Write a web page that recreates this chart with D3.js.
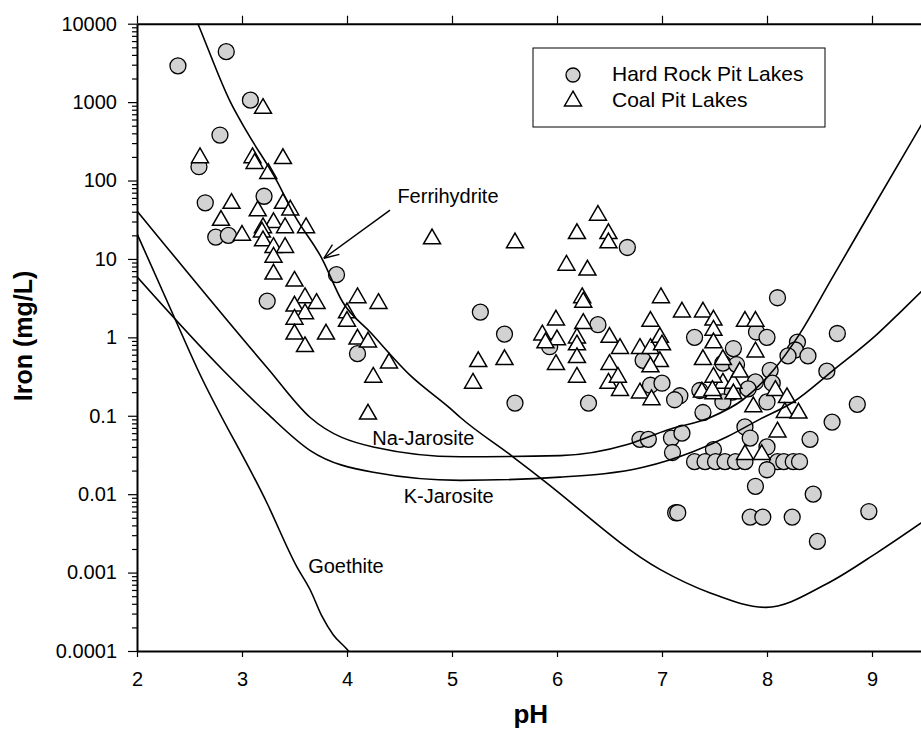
<!DOCTYPE html>
<html>
<head>
<meta charset="utf-8">
<script src="https://cdn.jsdelivr.net/npm/d3@7"></script>
<style>
  body { margin: 0; background: #fff; }
  svg { font-family: "Liberation Sans", Arial, sans-serif; }
</style>
</head>
<body>
<div id="chart"></div>
<script>
// axis ticks
var xTicks = [2, 3, 4, 5, 6, 7, 8, 9];
var yTicks = [0.0001, 0.001, 0.01, 0.1, 1, 10, 100, 1000, 10000];
var yTickLabels = ["0.0001", "0.001", "0.01", "0.1", "1", "10", "100", "1000", "10000"];

// pH, Fe (mg/L)
var hardRock = [
    [2.39, 2900], [2.85, 4400], [3.08, 1060], [2.79, 380], [2.59, 150], [2.65, 52],
    [2.75, 19], [2.87, 20], [3.21, 63], [3.24, 2.9], [3.90, 6.3], [4.10, 0.62],
    [5.27, 2.1], [5.50, 1.1], [5.93, 0.76], [5.60, 0.145], [6.39, 1.45], [6.67, 14],
    [6.30, 0.145], [6.82, 0.51], [7.31, 1.0], [8.10, 3.2], [7.68, 0.72], [7.90, 1.17],
    [8.00, 1.0], [7.58, 0.47], [7.71, 0.45], [6.89, 0.245], [7.00, 0.26], [7.17, 0.18],
    [7.36, 0.21], [7.89, 0.27], [8.03, 0.38], [8.29, 0.87], [8.27, 0.69], [8.20, 0.58],
    [8.39, 0.58], [8.67, 1.12], [8.57, 0.37], [8.05, 0.26], [8.86, 0.14], [7.12, 0.16],
    [7.39, 0.11], [7.67, 0.2], [7.82, 0.22], [8.00, 0.15], [7.58, 0.15], [6.79, 0.05],
    [6.87, 0.05], [7.09, 0.052], [7.19, 0.06], [7.10, 0.034], [7.49, 0.037], [7.79, 0.072],
    [7.84, 0.052], [8.00, 0.04], [8.41, 0.05], [8.62, 0.083],
    [7.31, 0.026], [7.41, 0.026], [7.51, 0.026], [7.60, 0.026], [7.70, 0.026],
    [7.79, 0.026], [8.10, 0.026], [8.16, 0.026], [8.25, 0.026], [8.31, 0.026],
    [8.00, 0.0205], [7.89, 0.0126], [7.13, 0.0058], [7.15, 0.0058], [7.84, 0.0051],
    [7.96, 0.0051], [8.24, 0.0051], [8.44, 0.01], [8.48, 0.0025], [8.97, 0.006]
];

var coal = [
    [3.20, 830], [2.60, 195], [3.10, 195], [3.12, 165], [3.39, 190], [3.25, 123],
    [2.90, 51], [2.80, 31], [3.00, 20], [3.15, 41], [3.39, 51], [3.46, 42],
    [3.30, 29], [3.20, 25], [3.19, 22], [3.41, 25], [3.61, 25], [3.20, 17],
    [3.30, 14], [3.41, 14], [3.30, 10.5], [3.30, 6.4], [3.50, 5.2], [3.60, 3.2],
    [3.71, 2.7], [3.50, 2.5], [3.60, 2.0], [3.50, 1.7], [3.50, 1.1], [3.60, 0.76],
    [3.80, 1.1], [4.10, 3.2], [4.30, 2.7], [4.00, 2.05], [4.00, 1.6], [4.10, 0.95],
    [4.20, 0.87], [4.40, 0.47], [4.25, 0.31], [4.20, 0.105], [4.81, 18], [5.60, 16],
    [6.19, 21], [6.39, 36], [6.49, 21], [6.49, 16], [6.09, 8.3], [6.29, 7.2],
    [6.24, 3.2], [6.25, 2.8], [5.99, 1.66], [6.25, 1.5], [5.86, 1.07], [6.00, 0.93],
    [5.89, 0.85], [6.19, 0.98], [6.19, 0.8], [6.50, 1.0], [6.60, 0.72], [6.79, 0.72],
    [6.89, 0.72], [6.98, 1.0], [7.00, 0.8], [6.99, 3.2], [7.19, 2.1], [7.39, 2.1],
    [7.49, 1.66], [7.49, 1.23], [6.89, 1.6], [7.49, 0.85], [7.79, 1.6], [7.89, 1.6],
    [7.89, 0.65], [7.39, 0.52], [7.58, 0.52], [6.98, 0.49], [6.89, 0.42], [5.25, 0.49],
    [5.50, 0.52], [5.99, 0.45], [6.19, 0.55], [6.50, 0.45], [5.20, 0.26], [6.19, 0.31],
    [6.49, 0.26], [6.60, 0.21], [6.79, 0.195], [6.90, 0.16], [6.58, 0.31], [7.38, 0.2],
    [7.49, 0.19], [7.58, 0.26], [7.68, 0.26], [7.74, 0.36], [7.49, 0.31], [7.87, 0.13],
    [8.08, 0.21], [8.19, 0.17], [8.17, 0.11], [8.30, 0.108], [8.10, 0.062], [7.79, 0.032],
    [7.95, 0.032], [7.48, 0.21], [7.68, 0.19]
];

// solubility curves
var ferrihydrite = [
    [2.50, 18000], [2.58, 10000], [2.89, 1000], [3.05, 410], [3.33, 100], [3.50, 36],
    [3.76, 10.2], [3.96, 2.8], [4.22, 1.17], [4.60, 0.33], [4.98, 0.125], [5.08, 0.095],
    [5.58, 0.03], [5.87, 0.015], [6.98, 0.0011], [7.46, 0.00055], [7.99, 0.00036],
    [8.57, 0.00072], [9.05, 0.0018], [9.50, 0.0046]
];
var naJarosite = [
    [2.00, 41], [3.24, 0.41], [3.65, 0.095], [4.25, 0.04], [5.08, 0.03], [6.03, 0.031],
    [6.67, 0.043], [7.05, 0.066], [7.46, 0.095], [7.77, 0.16], [8.06, 0.38], [8.31, 1.1],
    [8.61, 5.4], [9.00, 43], [9.50, 600]
];
var kJarosite = [
    [2.00, 5.9], [2.82, 0.38], [3.24, 0.107], [3.65, 0.036], [4.25, 0.019], [5.08, 0.015],
    [6.03, 0.0165], [6.82, 0.022], [7.30, 0.035], [7.62, 0.054], [7.93, 0.09], [8.25, 0.15],
    [8.63, 0.38], [9.05, 1.1], [9.27, 2.1], [9.50, 4.2]
];
var goethite = [
    [2.00, 21], [2.34, 2.0], [2.57, 0.41], [3.24, 0.0076], [3.52, 0.0012], [3.65, 0.0006],
    [3.76, 0.00028], [3.87, 0.00016], [4.00, 0.000105], [4.10, 0.00007]
];

var curveLabels = [
    {text: "Ferrihydrite", x: 4.48, y: 51},
    {text: "Na-Jarosite", x: 4.24, y: 0.042},
    {text: "K-Jarosite", x: 4.54, y: 0.0077},
    {text: "Goethite", x: 3.63, y: 0.00098}
];

var margin = {top: 23.7, left: 137},
    width = 787.5,
    height = 627.3;

var svg = d3.select("#chart").append("svg")
    .attr("width", 921)
    .attr("height", 737);

var g = svg.append("g")
    .attr("transform", "translate(" + margin.left + "," + margin.top + ")");

var x = d3.scaleLinear().domain([2, 9.5]).range([0, width]);
var y = d3.scaleLog().domain([0.0001, 10000]).range([height, 0]);

svg.append("defs").append("clipPath")
    .attr("id", "plotclip")
    .append("rect")
    .attr("width", width)
    .attr("height", height);

// markers
var plot = g.append("g").attr("clip-path", "url(#plotclip)");

plot.selectAll(".hr")
    .data(hardRock)
    .enter().append("circle")
    .attr("class", "hr")
    .attr("cx", function (d) { return x(d[0]); })
    .attr("cy", function (d) { return y(d[1]); })
    .attr("r", 8)
    .attr("fill", "#d2d2d2")
    .attr("stroke", "#000")
    .attr("stroke-width", 1.3);

var tri = d3.symbol().type(d3.symbolTriangle).size(125);

plot.selectAll(".coal")
    .data(coal)
    .enter().append("path")
    .attr("class", "coal")
    .attr("d", tri)
    .attr("transform", function (d) {
        return "translate(" + x(d[0]) + "," + y(d[1]) + ")";
    })
    .attr("fill", "#fff")
    .attr("stroke", "#000")
    .attr("stroke-width", 1.5);

// curves
var line = d3.line()
    .x(function (d) { return x(d[0]); })
    .y(function (d) { return y(d[1]); })
    .curve(d3.curveMonotoneX);

[ferrihydrite, naJarosite, kJarosite, goethite].forEach(function (c) {
    plot.append("path")
        .datum(c)
        .attr("d", line)
        .attr("fill", "none")
        .attr("stroke", "#000")
        .attr("stroke-width", 1.6);
});

g.selectAll(".clabel")
    .data(curveLabels)
    .enter().append("text")
    .attr("class", "clabel")
    .attr("x", function (d) { return x(d.x); })
    .attr("y", function (d) { return y(d.y); })
    .attr("font-size", 20)
    .text(function (d) { return d.text; });

// arrow for Ferrihydrite
var tail = [4.41, 42], tip = [3.78, 10.2];
var tx = x(tip[0]), ty = y(tip[1]);
var ang = Math.atan2(y(tail[1]) - ty, x(tail[0]) - tx);
g.append("line")
    .attr("x1", x(tail[0])).attr("y1", y(tail[1]))
    .attr("x2", tx).attr("y2", ty)
    .attr("stroke", "#000").attr("stroke-width", 1.4);
[-0.38, 0.38].forEach(function (a) {
    g.append("line")
        .attr("x1", tx).attr("y1", ty)
        .attr("x2", tx + 16 * Math.cos(ang + a))
        .attr("y2", ty + 16 * Math.sin(ang + a))
        .attr("stroke", "#000").attr("stroke-width", 1.4);
});

// axes
var minorTicks = [];
yTicks.slice(0, -1).forEach(function (t) {
    for (var k = 2; k < 10; k++) minorTicks.push(t * k);
});

g.append("g")
    .call(d3.axisLeft(y).tickValues(minorTicks).tickSize(5).tickSizeOuter(0).tickFormat(""))
    .call(function (a) { a.select(".domain").remove(); });

g.append("g")
    .attr("class", "axis")
    .call(d3.axisLeft(y).tickValues(yTicks).tickSize(9).tickSizeOuter(0).tickPadding(11)
        .tickFormat(function (d, i) { return yTickLabels[i]; }));

g.append("g")
    .attr("class", "axis")
    .attr("transform", "translate(0," + height + ")")
    .call(d3.axisBottom(x).tickValues(xTicks).tickSize(6).tickSizeOuter(0).tickPadding(15));

g.append("g")
    .attr("class", "axis")
    .call(d3.axisTop(x).tickValues(xTicks).tickSize(8).tickSizeOuter(0).tickFormat(""));

g.selectAll(".axis text")
    .attr("font-size", 20)
    .attr("font-family", "Liberation Sans, Arial, sans-serif")
    .attr("fill", "#000");
g.selectAll(".domain").attr("stroke-width", 2);
g.selectAll(".tick line").attr("stroke-width", 1.2);

// axis titles
svg.append("text")
    .attr("transform", "translate(32," + 336 + ") rotate(-90)")
    .attr("text-anchor", "middle")
    .attr("font-size", 25)
    .attr("font-weight", "bold")
    .text("Iron (mg/L)");

svg.append("text")
    .attr("x", margin.left + x(5.75))
    .attr("y", 723)
    .attr("text-anchor", "middle")
    .attr("font-size", 26)
    .attr("font-weight", "bold")
    .text("pH");

// legend
var legend = svg.append("g").attr("transform", "translate(533,48)");
legend.append("rect")
    .attr("width", 292)
    .attr("height", 79)
    .attr("fill", "#fff")
    .attr("stroke", "#000")
    .attr("stroke-width", 1);
legend.append("circle")
    .attr("cx", 40).attr("cy", 27).attr("r", 7)
    .attr("fill", "#d2d2d2").attr("stroke", "#000").attr("stroke-width", 1.3);
legend.append("path")
    .attr("d", tri)
    .attr("transform", "translate(40,53)")
    .attr("fill", "#fff").attr("stroke", "#000").attr("stroke-width", 1.5);
legend.append("text").attr("x", 79).attr("y", 33).attr("font-size", 21).text("Hard Rock Pit Lakes");
legend.append("text").attr("x", 79).attr("y", 59).attr("font-size", 21).text("Coal Pit Lakes");
</script>
</body>
</html>
